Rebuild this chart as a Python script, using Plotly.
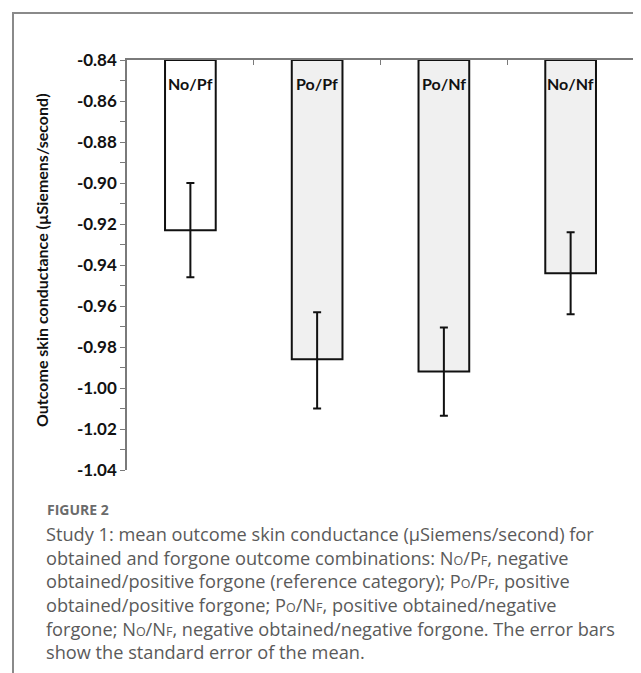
import plotly.graph_objects as go

categories = ["No/Pf", "Po/Pf", "Po/Nf", "No/Nf"]
means = [-0.923, -0.986, -0.992, -0.944]
err_plus = [0.023, 0.023, 0.0215, 0.020]
err_minus = [0.023, 0.024, 0.0215, 0.020]
fills = ["#ffffff", "#f0f0f0", "#f0f0f0", "#f0f0f0"]
base_value = -0.84
y_ticks = [-0.84, -0.86, -0.88, -0.90, -0.92, -0.94, -0.96, -0.98, -1.00, -1.02, -1.04]
y_ticktext = ["%.2f" % v for v in y_ticks]
y_title = "Outcome skin conductance (µSiemens/second)"
fig_label = "FIGURE 2"

def s(t):
    return '<span style="font-size:12.5px">' + t + '</span>'

caption_lines = [
    "Study 1: mean outcome skin conductance (µSiemens/second) for",
    "obtained and forgone outcome combinations: N" + s("O") + "/P" + s("F") + ", negative",
    "obtained/positive forgone (reference category); P" + s("O") + "/P" + s("F") + ", positive",
    "obtained/positive forgone; P" + s("O") + "/N" + s("F") + ", positive obtained/negative",
    "forgone; N" + s("O") + "/N" + s("F") + ", negative obtained/negative forgone. The error bars",
    "show the standard error of the mean.",
]

W, H = 641, 673
L, R, T, B = 119, 15, 52, 211
pw, ph = W - L - R, H - T - B

def px_x(px):
    return (px - L) / pw

def px_y(py):
    return (H - B - py) / ph

xs = list(range(len(categories)))

fig = go.Figure()
fig.add_trace(go.Bar(
    x=xs, y=[m - base_value for m in means], base=base_value,
    width=0.40,
    marker=dict(color=fills, line=dict(color="#111111", width=2)),
    hoverinfo="skip", showlegend=False,
))
fig.add_trace(go.Scatter(
    x=xs, y=means, mode="markers",
    marker=dict(size=1, color="rgba(0,0,0,0)"),
    error_y=dict(type="data", array=err_plus, arrayminus=err_minus,
                 color="#111111", thickness=2, width=4, symmetric=False),
    showlegend=False, hoverinfo="skip",
))

for i, c in enumerate(categories):
    fig.add_annotation(x=i, y=base_value, xref="x", yref="y", text=c,
                       showarrow=False, yanchor="top", yshift=-12,
                       font=dict(family="Lato", size=16, color="#111111", weight="bold"))

fig.add_annotation(x=px_x(33), y=px_y(252), xref="paper", yref="paper",
                   text=y_title, textangle=-90, showarrow=False,
                   xanchor="center", yanchor="middle",
                   font=dict(family="Lato", size=16, color="#111111", weight="bold"))

fig.add_annotation(x=px_x(37), y=px_y(501), xref="paper", yref="paper",
                   text="<b>" + fig_label + "</b>", showarrow=False,
                   xanchor="left", yanchor="middle",
                   font=dict(family="Open Sans", size=14, color="#6b6b6b"))
fig.add_annotation(x=px_x(36), y=px_y(512), xref="paper", yref="paper",
                   text="<br>".join(caption_lines), showarrow=False,
                   xanchor="left", yanchor="top", align="left",
                   font=dict(family="Open Sans", size=18.2, color="#5a5a5a"))

fig.add_shape(type="rect", xref="paper", yref="paper",
              x0=px_x(5), x1=px_x(720), y0=px_y(760), y1=px_y(5),
              line=dict(color="#8a8a8a", width=2), fillcolor="rgba(0,0,0,0)", layer="below")

fig.update_layout(
    width=W, height=H,
    margin=dict(l=L, r=R, t=T, b=B, pad=0),
    paper_bgcolor="white", plot_bgcolor="white",
    xaxis=dict(range=[-0.5, 3.5], side="top", showline=True, linecolor="#7a7a7a", linewidth=1.5,
               tickvals=[0.5, 1.5, 2.5, 3.5], ticks="inside", ticklen=5, tickcolor="#7a7a7a",
               showticklabels=False, showgrid=False, zeroline=False, fixedrange=True),
    yaxis=dict(range=[-1.04, -0.84], showline=True, linecolor="#7a7a7a", linewidth=1.5,
               tickvals=y_ticks, ticktext=y_ticktext, ticks="outside", ticklen=5,
               tickcolor="#7a7a7a", showgrid=False, zeroline=False,
               minor=dict(dtick=0.01, ticks="outside", ticklen=5, tickcolor="#7a7a7a", showgrid=False),
               tickfont=dict(family="Lato", size=17, color="#111111", weight="bold")),
)

fig.write_html("out.html")
